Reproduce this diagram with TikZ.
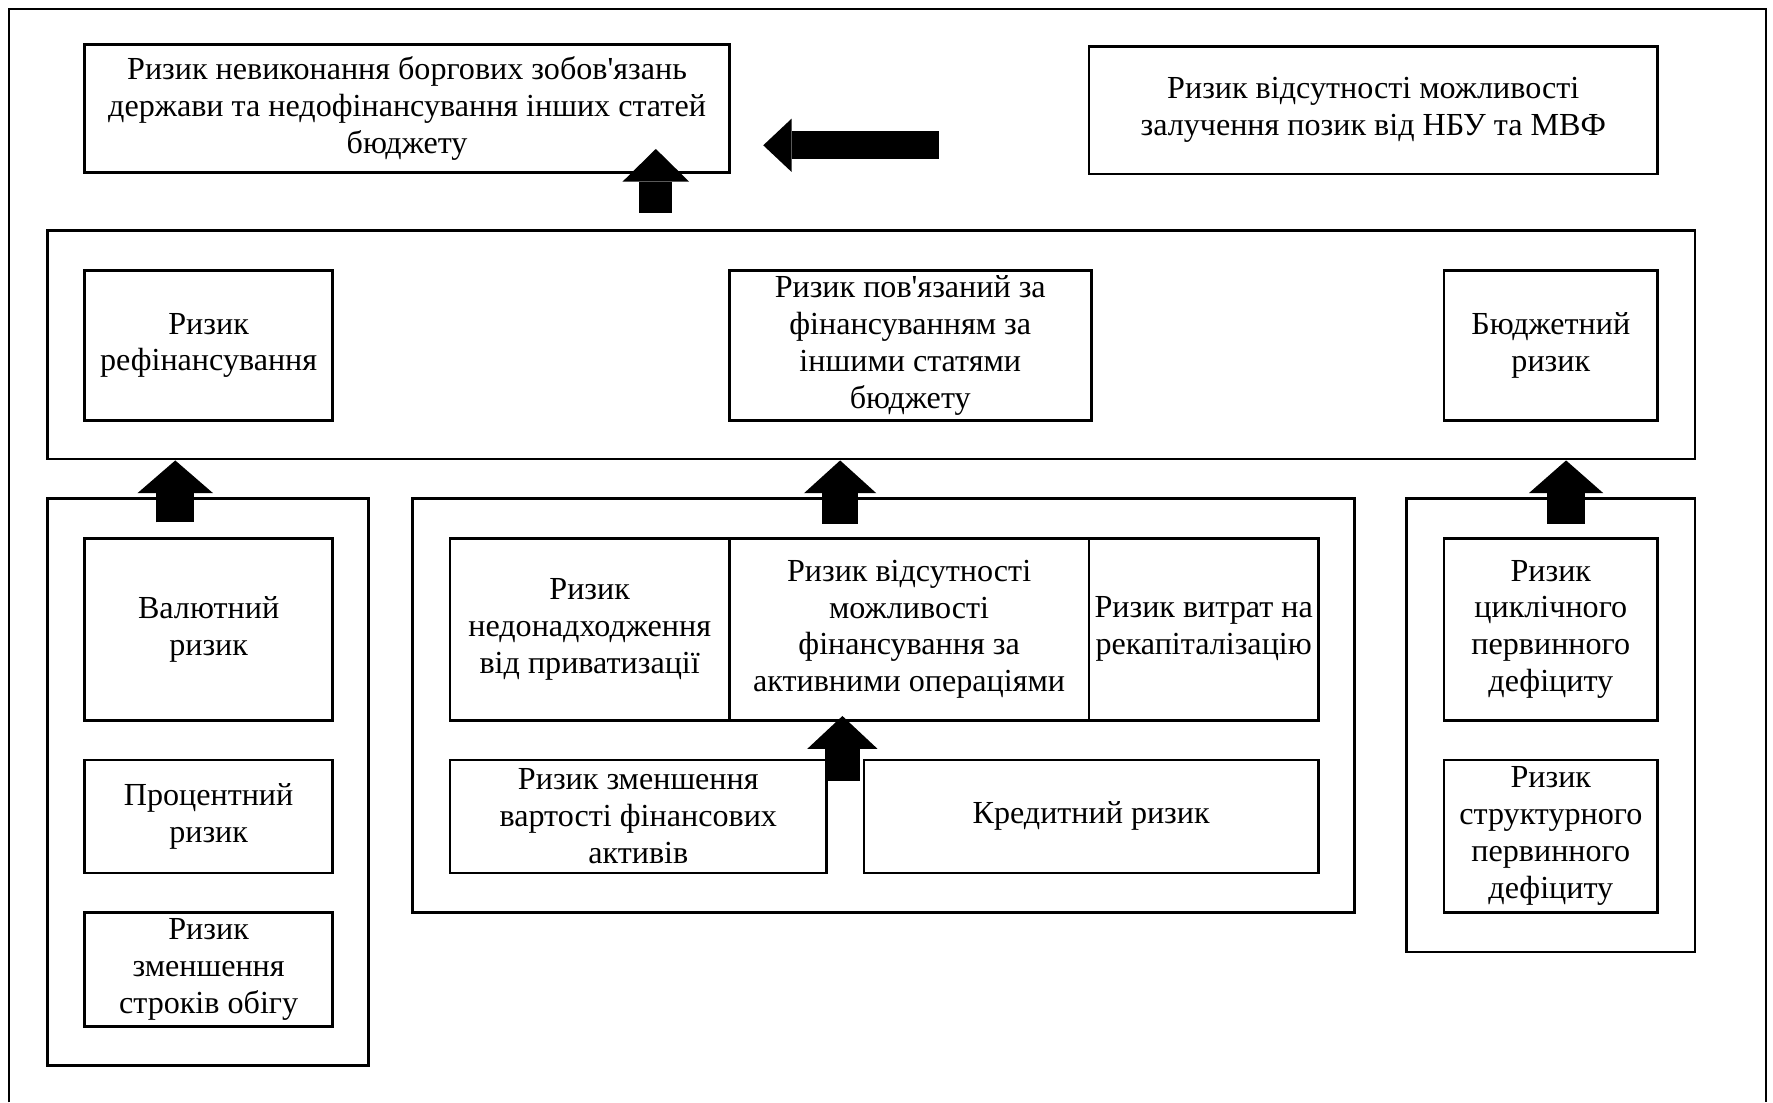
\documentclass[tikz,border=0pt]{standalone}
\usepackage{fontspec}
\setmainfont{Liberation Serif}
\usetikzlibrary{arrows.meta,calc}

\tikzset{
    box/.style 2 args={draw, line width=1.2pt, align=center, inner sep=1pt,
        minimum width=#1, minimum height=#2,
        font=\fontsize{14.2}{16.3}\selectfont},
    group/.style 2 args={draw, line width=1.2pt, minimum width=#1, minimum height=#2},
    blockup/.style 2 args={line width=#1, -{Triangle[width=#2, length=14.5pt, line width=0pt]}}
}

\begin{document}
\begin{tikzpicture}[x=0.5pt, y=-0.5pt]
        \useasboundingbox (0,0) rectangle (1568,975);
        \draw[line width=0.8pt] (8,975) -- (8,8) -- (1562,8) -- (1562,975);

        % upper row
        \node[box={285pt}{56.5pt}] (borg) at (360,96) {Ризик невиконання боргових зобов\textquotesingle язань\\держави та недофінансування інших статей\\бюджету};
        \node[box={251.5pt}{56.5pt}] (nbu) at (1214.5,97.5) {Ризик відсутності можливості\\залучення позик від НБУ та МВФ};

        % middle row
        \node[group={728.5pt}{101pt}] (mid) at (770.5,305) {};
        \node[box={109.5pt}{66.5pt}] (refin) at (184.5,305.5) {Ризик\\рефінансування};
        \node[box={160pt}{66.5pt}] (other) at (805,305.5) {Ризик пов\textquotesingle язаний за\\фінансуванням за\\іншими статями\\бюджету};
        \node[box={94.5pt}{66.5pt}] (budget) at (1371.5,305.5) {Бюджетний\\ризик};

        % left group
        \node[group={142pt}{250.5pt}] (left) at (184,691.5) {};
        \node[box={109.5pt}{80.5pt}] (cur) at (184.5,556.5) {Валютний\\ризик};
        \node[box={109.5pt}{50pt}] (rate) at (184.5,722) {Процентний\\ризик};
        \node[box={109.5pt}{50.5pt}] (term) at (184.5,857.5) {Ризик\\зменшення\\строків обігу};

        % centre group
        \node[group={416.5pt}{183pt}] (centre) at (781.5,624) {};
        \node[box={123.5pt}{80.5pt}] (priv) at (521.5,556.5) {Ризик\\недонадходження\\від приватизації};
        \node[box={159pt}{80.5pt}] (active) at (804,556.5) {Ризик відсутності\\можливості\\фінансування за\\активними операціями};
        \node[box={101.5pt}{80.5pt}] (recap) at (1064.5,556.5) {Ризик витрат на\\рекапіталізацію};
        \node[box={166.5pt}{50pt}] (assets) at (564.5,722) {Ризик зменшення\\вартості фінансових\\активів};
        \node[box={201pt}{50pt}] (credit) at (965,722) {Кредитний ризик};

        % right group
        \node[group={127.5pt}{200.5pt}] (right) at (1371.5,641.5) {};
        \node[box={94.5pt}{80.5pt}] (cycl) at (1371.5,556.5) {Ризик\\циклічного\\первинного\\дефіциту};
        \node[box={94.5pt}{67.5pt}] (struct) at (1371.5,739.5) {Ризик\\структурного\\первинного\\дефіциту};

        % arrows
        \coordinate (aleft) at (155,462);
        \coordinate (acentre) at (743,463);
        \coordinate (aright) at (1385,463);
        \coordinate (ainner) at (745,691);
        \coordinate (atop) at (580,188);
        \coordinate (nbutail) at (830,128.5);
        \coordinate (nbutip) at (675,128.5);

        \draw[blockup={17pt}{33.5pt}] (aleft) -- (aleft |- mid.south);
        \draw[blockup={16pt}{32pt}] (acentre) -- (acentre |- mid.south);
        \draw[blockup={16.5pt}{33pt}] (aright) -- (aright |- mid.south);
        \draw[blockup={15.5pt}{31pt}] (ainner) -- ($(ainner |- active.south)+(0,-5)$);
        \draw[blockup={14.5pt}{29.5pt}] (atop) -- ($(atop |- borg.south)+(0,-22)$);
        \draw[line width=12.5pt, -{Triangle[width=23.5pt, length=12.5pt, line width=0pt]}] (nbutail) -- (nbutip);

    \end{tikzpicture}
\end{document}
